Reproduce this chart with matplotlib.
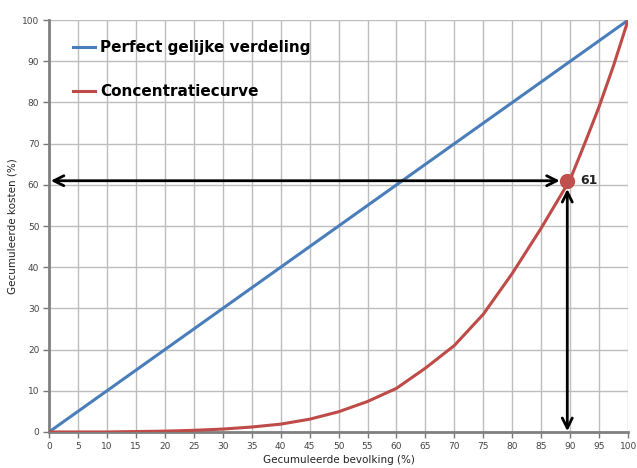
import matplotlib.pyplot as plt

# cumulative population (%)
bevolking = [0, 5, 10, 15, 20, 25, 30, 35, 40, 45, 50, 55, 60, 65, 70, 75, 80, 85, 90, 92.5, 95, 97.5, 100]
# perfect equality line
gelijk = list(bevolking)
# concentration curve
concentratie = [0, 0, 0, 0.1, 0.2, 0.4, 0.7, 1.2, 1.9, 3.1, 4.9, 7.4, 10.6, 15.5, 21, 28.6, 38.5, 49.5, 61.3, 70, 79, 89, 100]

punt_x, punt_y = 89.5, 61

fig = plt.figure(figsize=(6.37, 4.68), dpi=100)
ax = fig.add_axes([0.077, 0.077, 0.909, 0.88])

ax.plot(bevolking, gelijk, color='#4a7ebb', lw=2.2, label='Perfect gelijke verdeling', zorder=3)
ax.plot(bevolking, concentratie, color='#be4b48', lw=2.2, label='Concentratiecurve', zorder=3,
        solid_joinstyle='round')

ax.plot([punt_x], [punt_y], 'o', color='#c0504d', ms=10, zorder=5)
ax.text(punt_x + 2.2, punt_y, str(punt_y), fontsize=9, fontweight='bold', va='center', color='#222222')

# arrows
arr = dict(arrowstyle='<->', color='black', lw=2, mutation_scale=18, shrinkA=0, shrinkB=0)
ax.annotate('', xy=(0.3, punt_y), xytext=(punt_x - 1.3, punt_y), arrowprops=arr, zorder=4)
ax.annotate('', xy=(punt_x, 0.2), xytext=(punt_x, punt_y - 2), arrowprops=arr, zorder=4)

ax.set_xlim(0, 100)
ax.set_ylim(0, 100)
ax.set_xticks(range(0, 101, 5))
ax.set_yticks(range(0, 101, 10))
ax.grid(True, color='#bdbdbd', lw=1)
ax.set_axisbelow(True)
ax.tick_params(labelsize=6.5, labelcolor='#444444', color='#777777', length=4, width=1, pad=3)
for s in ['top', 'right']:
    ax.spines[s].set_visible(False)
for s in ['left', 'bottom']:
    ax.spines[s].set_color('#808080')
    ax.spines[s].set_linewidth(2)

ax.set_xlabel('Gecumuleerde bevolking (%)', fontsize=7.5, color='#222222', labelpad=3)
ax.set_ylabel('Gecumuleerde kosten (%)', fontsize=7.5, color='#222222', labelpad=3)

leg = ax.legend(loc='upper left', bbox_to_anchor=(0.018, 0.985), frameon=False,
                prop={'size': 11, 'weight': 'bold'}, handlelength=1.4,
                labelspacing=1.9, handletextpad=0.35)

fig.savefig('out.png', dpi=100)
